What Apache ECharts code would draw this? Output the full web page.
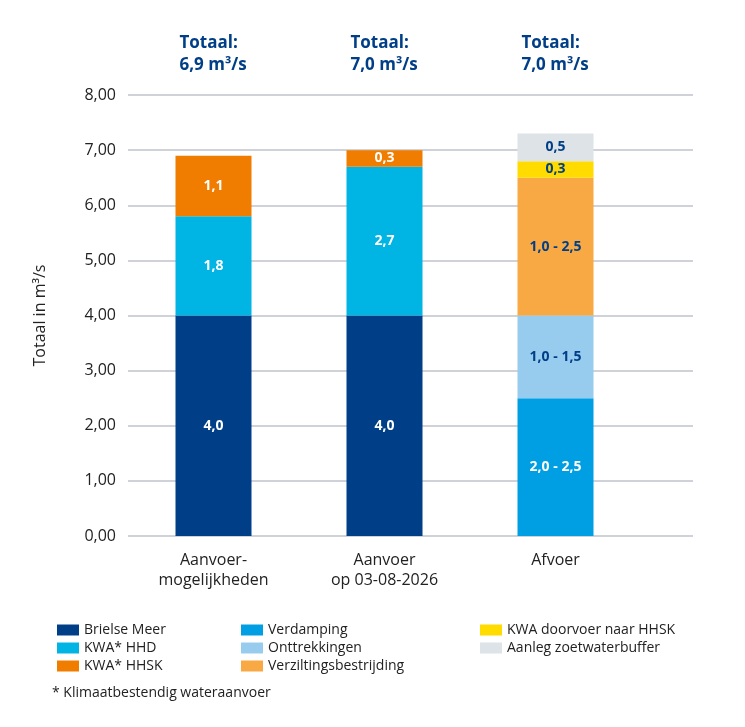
<!DOCTYPE html>
<html><head><meta charset="utf-8">
<script src="https://cdn.jsdelivr.net/npm/echarts@6/dist/echarts.min.js"></script>
<style>body{margin:0}#c{width:745px;height:727px}</style>
</head><body><div id="c"></div>
<script>
var categories = ["Aanvoer-\nmogelijkheden", "Aanvoer\nop 03-08-2026", "Afvoer"];
var totals = ["Totaal:\n6,9 m³/s", "Totaal:\n7,0 m³/s", "Totaal:\n7,0 m³/s"];
var brielse = [4.0, 4.0, null];
var kwaHHD = [1.8, 2.7, null];
var kwaHHSK = [1.1, 0.3, null];
var verdamping = [null, null, 2.5];
var onttrekkingen = [null, null, 1.5];
var verzilting = [null, null, 2.5];
var doorvoer = [null, null, 0.3];
var buffer = [null, null, 0.5];
var rangeLabels = {"Verdamping": "2,0 - 2,5", "Onttrekkingen": "1,0 - 1,5", "Verziltingsbestrijding": "1,0 - 2,5"};
var yTicks = ["0,00","1,00","2,00","3,00","4,00","5,00","6,00","7,00","8,00"];

var font = "Open Sans";
function mk(name, vals, color, txt) {
	return {
		name: name, type: "bar", stack: "t", barWidth: 76, itemStyle: {color: color},
		data: vals.map(function(v){ return v == null ? "-" : v; }),
		label: {show: true, position: "inside", color: txt, fontWeight: "bold", fontSize: 14, fontFamily: font,
			formatter: function(p){ return rangeLabels[name] || p.value.toFixed(1).replace(".", ","); }}
	};
}
var chart = echarts.init(document.getElementById("c"));
var legendBase = {orient: "vertical", itemWidth: 22, itemHeight: 11, itemGap: 4, icon: "rect",
	textStyle: {fontFamily: font, fontSize: 14, color: "#222"}};
chart.setOption({
	animation: false,
	grid: [{left: 128, right: 104, top: 95, bottom: 191}, {left: 128, right: 52, top: 95, bottom: 191}],
	xAxis: [{type: "category", data: categories, gridIndex: 0,
		axisLine: {show: false}, axisTick: {show: false},
		axisLabel: {fontFamily: font, fontSize: 16, color: "#222", margin: 14, lineHeight: 20}},
		{type: "value", gridIndex: 1, show: false, splitLine: {show: false}}],
	yAxis: [{type: "value", min: 0, max: 8, interval: 1, gridIndex: 0, z: 3,
		name: "Totaal in m³/s", nameLocation: "middle", nameGap: 80, nameRotate: 90,
		nameTextStyle: {fontFamily: font, fontSize: 16, color: "#222"},
		axisLine: {show: false}, axisTick: {show: false}, splitLine: {show: false},
		axisLabel: {fontFamily: font, fontSize: 16, color: "#222", margin: 12, formatter: function(v){ return yTicks[Math.round(v)]; }}},
		{type: "value", min: 0, max: 8, interval: 1, gridIndex: 1, z: 0,
		axisLine: {show: false}, axisTick: {show: false}, axisLabel: {show: false},
		splitLine: {lineStyle: {color: "#bfc3cc", width: 1.5}}}],
	legend: [
		Object.assign({left: 52, top: 618, data: ["Brielse Meer", "KWA* HHD", "KWA* HHSK"]}, legendBase),
		Object.assign({left: 236, top: 618, data: ["Verdamping", "Onttrekkingen", "Verziltingsbestrijding"]}, legendBase),
		Object.assign({left: 475, top: 618, data: ["KWA doorvoer naar HHSK", "Aanleg zoetwaterbuffer"]}, legendBase)
	],
	series: [
		mk("Brielse Meer", brielse, "#003f87", "#fff"),
		mk("KWA* HHD", kwaHHD, "#00b4e4", "#fff"),
		mk("KWA* HHSK", kwaHHSK, "#f07d00", "#fff"),
		mk("Verdamping", verdamping, "#009fe3", "#fff"),
		mk("Onttrekkingen", onttrekkingen, "#98ccef", "#003f87"),
		mk("Verziltingsbestrijding", verzilting, "#f8a943", "#003f87"),
		mk("KWA doorvoer naar HHSK", doorvoer, "#ffdb00", "#003f87"),
		mk("Aanleg zoetwaterbuffer", buffer, "#dde3e6", "#003f87"),
		{type: "line", xAxisIndex: 1, yAxisIndex: 1, data: [], silent: true}
	]
});
var g = totals.map(function(t, i){
	var x = chart.convertToPixel({xAxisIndex: 0}, i) + 6;
	return {type: "text", left: x - 40, top: 32, style: {text: t, width: 80, align: "center", fill: "#003f87",
		font: "bold 17px 'Open Sans'", lineHeight: 22}};
});
g.push({type: "text", left: 52, top: 686, style: {text: "* Klimaatbestendig wateraanvoer", fill: "#222", font: "14px 'Open Sans'"}});
chart.setOption({graphic: g});
</script></body></html>
